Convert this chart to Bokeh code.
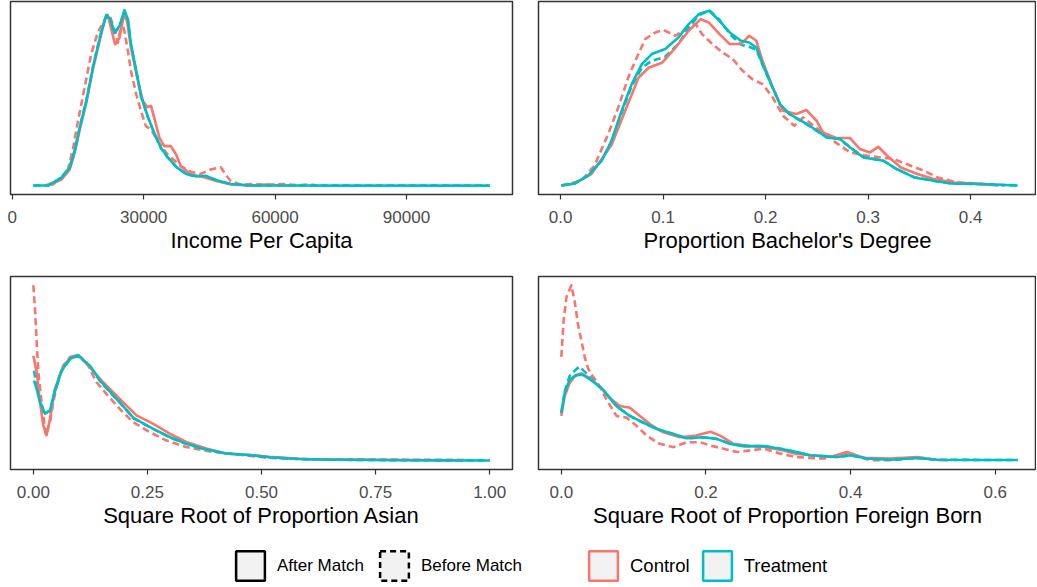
import math
from bokeh.plotting import figure
from bokeh.models import Range1d, FixedTicker, Legend, LegendItem
from bokeh.layouts import column, row
from bokeh.embed import file_html
from bokeh.resources import INLINE

RED = "#F8766D"
CYAN = "#00BFC4"
FONT = "Liberation Sans"

# ---------------- data (density, unlabelled scale) ----------------
# Income Per Capita
inc_ctrl_after_x = [7500, 11200, 13100, 14250, 15400, 16900, 18400, 20200, 21100, 21800, 22700, 23500, 24500, 25450, 26200, 27100, 28300, 29800, 30800, 31700, 32600, 33600, 34700, 36200, 37400, 38500, 40800, 43800, 46800, 49900, 54400, 58000, 61000, 64000]
inc_ctrl_after_y = [0.2, 6, 16, 33, 56, 83, 116, 149.5, 166, 170.5, 154.5, 141.2, 147.8, 170.5, 164.5, 137.8, 112.8, 84.5, 78.5, 79.5, 64.5, 47.8, 39.5, 39.5, 31.2, 19.5, 11.2, 8.5, 4.5, 1.2, 0.3, 1.3, 0.5, 0.1]
inc_ctrl_before_x = [8950, 11200, 12700, 13900, 15000, 16500, 18000, 19500, 21100, 22200, 23200, 24100, 25000, 25600, 26400, 27100, 28300, 29400, 30500, 31700, 33200, 35450, 38500, 40800, 43000, 45300, 47600, 48700, 49900, 52100, 55000, 58000, 62000, 65000, 68000, 70000]
inc_ctrl_before_y = [0.2, 7.8, 16, 37.8, 64.5, 97.8, 131.2, 152.8, 166, 170.5, 157.8, 142.8, 164.5, 154.5, 134.5, 114.5, 91.2, 74.5, 59.5, 56.2, 44.5, 31.2, 19.5, 13.8, 11.8, 16.2, 18.5, 11.2, 4.5, 1.2, 1.8, 0.8, 1.6, 0.6, 1.2, 0.1]
inc_treat_after_x = [4800, 8200, 11200, 13100, 14250, 15400, 16900, 18400, 20200, 21450, 22400, 23300, 24500, 25600, 26400, 27100, 28300, 29400, 30900, 32400, 33950, 35450, 37700, 40000, 42300, 44200, 46800, 49900, 54400, 62000, 75000, 90000, 109000]
inc_treat_after_y = [0.2, 0.2, 7.8, 17.8, 34.5, 57.8, 84.5, 117.8, 151.2, 170.5, 166, 152.8, 159.5, 175.2, 166, 141.2, 114.5, 89.5, 69.5, 52.8, 37.8, 28.5, 17.8, 11.2, 9.5, 9.8, 5.2, 1.8, 0.2, 0.2, 0.1, 0.1, 0.1]
inc_treat_before_x = [4800, 8200, 11200, 13100, 14250, 15400, 16900, 18400, 20200, 21450, 22400, 23300, 24500, 25600, 26400, 27100, 28300, 29400, 30900, 32400, 33950, 35450, 37700, 40000, 42300, 44200, 46800, 49900, 54400, 62000, 75000, 90000, 109000]
inc_treat_before_y = [0.2, 0.3, 8.2, 18.5, 35.5, 58.5, 85, 118.5, 151.8, 170, 165.5, 152, 159, 174.8, 165.5, 140.5, 114, 89, 69, 52.5, 37.5, 28.2, 17.5, 11, 9.3, 9.5, 5, 1.7, 0.2, 0.2, 0.1, 0.1, 0.1]

# Proportion Bachelor's Degree
bach_ctrl_after_x = [0.0007, 0.0138, 0.030, 0.0498, 0.063, 0.076, 0.0858, 0.0989, 0.112, 0.125, 0.1367, 0.145, 0.155, 0.165, 0.176, 0.184, 0.191, 0.197, 0.207, 0.217, 0.230, 0.240, 0.2497, 0.256, 0.269, 0.2825, 0.292, 0.302, 0.310, 0.3186, 0.332, 0.348, 0.364, 0.384, 0.404, 0.427]
bach_ctrl_after_y = [0.2, 2.3, 11.7, 41, 75, 108, 118, 123, 138, 155, 166.7, 163, 151.7, 141.7, 141.7, 150, 145, 125, 98.3, 75, 71.7, 75.7, 65, 53.3, 47.7, 47.7, 36.7, 33.3, 39, 30, 18.3, 11.7, 6.7, 3.3, 2.3, 0.3]
bach_ctrl_before_x = [0.0007, 0.020, 0.033, 0.0465, 0.0563, 0.066, 0.0743, 0.0826, 0.0924, 0.1006, 0.112, 0.122, 0.1318, 0.138, 0.148, 0.158, 0.168, 0.1776, 0.187, 0.197, 0.207, 0.217, 0.228, 0.2366, 0.253, 0.266, 0.2825, 0.299, 0.312, 0.325, 0.3415, 0.3546, 0.368, 0.387, 0.407, 0.433]
bach_ctrl_before_y = [0.2, 5, 20, 51.7, 78.3, 108.3, 128.3, 146.7, 153.3, 155.7, 150, 156.7, 161.7, 151.7, 141.7, 133.3, 126.7, 115, 106.7, 101.7, 88.3, 70, 60, 68.3, 55, 45, 33.3, 30, 28.3, 26.7, 20, 15, 8.3, 3.3, 2.3, 0.3]
bach_treat_after_x = [0.0007, 0.0138, 0.0268, 0.040, 0.0498, 0.0596, 0.0694, 0.0793, 0.089, 0.102, 0.115, 0.125, 0.135, 0.145, 0.155, 0.165, 0.176, 0.184, 0.191, 0.197, 0.204, 0.214, 0.2235, 0.243, 0.2596, 0.2727, 0.2825, 0.2956, 0.315, 0.328, 0.345, 0.364, 0.381, 0.407, 0.446]
bach_treat_after_y = [0.2, 2.3, 10, 25, 45, 75, 101.7, 121.7, 131.7, 136.7, 148.3, 161.7, 171.7, 175, 165, 153.3, 145, 143.3, 138.3, 121.7, 105, 81.7, 71.7, 60, 48.3, 46.7, 38.3, 28.3, 25, 16.7, 8.3, 5, 2.3, 1.7, 0.3]
bach_treat_before_x = [0.0007, 0.0138, 0.0268, 0.040, 0.0498, 0.0596, 0.0694, 0.0793, 0.089, 0.102, 0.115, 0.125, 0.135, 0.145, 0.155, 0.165, 0.176, 0.184, 0.191, 0.197, 0.204, 0.214, 0.2235, 0.243, 0.2596, 0.2727, 0.2825, 0.2956, 0.315, 0.328, 0.345, 0.364, 0.381, 0.407, 0.446]
bach_treat_before_y = [0.2, 2.3, 10, 25, 45, 73, 100, 118, 125, 129, 142, 158, 170.5, 175.5, 166, 152, 141, 139, 136, 121, 104.5, 81.5, 71.5, 59.5, 48.5, 46.5, 38.5, 28.5, 25, 16.5, 8.5, 5, 2.3, 1.7, 0.3]

# Square Root of Proportion Asian
asian_ctrl_after_x = [0.0, 0.0074, 0.0146, 0.0219, 0.029, 0.0365, 0.0474, 0.062, 0.080, 0.0983, 0.124, 0.153, 0.189, 0.226, 0.262, 0.2987, 0.335, 0.379, 0.4225, 0.48, 0.517, 0.6, 0.75, 0.94]
asian_ctrl_after_y = [105.5, 89, 58.8, 35.5, 25.5, 42.2, 72.2, 90.5, 103.8, 106.2, 93.8, 78.8, 62.2, 45.5, 37.2, 27.2, 18.8, 12.2, 7.2, 5.5, 4, 1.5, 1, 0.5]
asian_ctrl_before_x = [0.0, 0.0037, 0.0074, 0.011, 0.018, 0.0277, 0.0365, 0.0437, 0.0546, 0.0656, 0.080, 0.0983, 0.1166, 0.1385, 0.160, 0.189, 0.2185, 0.255, 0.291, 0.335, 0.393, 0.444, 0.517, 0.6, 0.75, 0.946]
asian_ctrl_before_y = [176.2, 152, 118.8, 88.8, 58.8, 25.5, 38.8, 58.8, 82.2, 95.5, 103.8, 106.2, 98.8, 78.8, 67.2, 52.2, 38.8, 28.8, 20.5, 13.8, 8.8, 6.5, 2.8, 1.5, 1.2, 0.8]
asian_treat_after_x = [0.0015, 0.0074, 0.0146, 0.0256, 0.0365, 0.0474, 0.062, 0.080, 0.0974, 0.124, 0.147, 0.189, 0.22, 0.262, 0.2987, 0.335, 0.367, 0.4225, 0.48, 0.517, 0.58, 0.66, 0.8, 0.9, 1.0]
asian_treat_after_y = [80.5, 72.2, 58.8, 47.2, 50.5, 70.5, 90.5, 102.2, 106, 95.5, 80, 58.8, 42.8, 32.2, 23.8, 17.2, 12.6, 7.2, 5.5, 3.5, 1.8, 1, 0.5, 0.4, 0.3]
asian_treat_before_x = [0.0015, 0.0074, 0.0146, 0.0256, 0.0365, 0.0474, 0.062, 0.080, 0.0974, 0.124, 0.147, 0.189, 0.22, 0.262, 0.2987, 0.335, 0.367, 0.4225, 0.48, 0.517, 0.58, 0.66, 0.8, 0.9, 1.0]
asian_treat_before_y = [90.5, 75, 59.5, 47.5, 50, 70, 90, 102, 105.5, 95, 79.5, 58.5, 42.5, 32, 23.5, 17, 12.5, 7.2, 5.5, 3.5, 1.8, 1, 0.5, 0.4, 0.3]

# Square Root of Proportion Foreign Born
fb_ctrl_after_x = [0.0, 0.0046, 0.0115, 0.0184, 0.0277, 0.039, 0.053, 0.067, 0.081, 0.0947, 0.1086, 0.1225, 0.141, 0.164, 0.187, 0.206, 0.2196, 0.238, 0.261, 0.284, 0.307, 0.3236, 0.344, 0.372, 0.395, 0.418, 0.455, 0.4924, 0.515, 0.534]
fb_ctrl_after_y = [45.5, 65.5, 78.8, 85.5, 88.8, 83.8, 75.5, 63.8, 55.5, 53.8, 45.5, 37.2, 28.8, 23.8, 25.5, 29.5, 25.5, 17.2, 15, 13.8, 10.5, 7.2, 5.5, 3.8, 8.8, 3, 2.2, 3.8, 1, 0.3]
fb_ctrl_before_x = [0.0, 0.0032, 0.0069, 0.0139, 0.0184, 0.023, 0.0277, 0.0323, 0.0369, 0.0438, 0.053, 0.0624, 0.0763, 0.090, 0.104, 0.118, 0.136, 0.155, 0.173, 0.192, 0.206, 0.224, 0.243, 0.261, 0.28, 0.303, 0.3236, 0.344, 0.363, 0.39, 0.404, 0.428, 0.455, 0.478, 0.5015, 0.52]
fb_ctrl_before_y = [105.5, 142.2, 165.5, 178.2, 162.2, 138.8, 122.2, 105.5, 93.8, 85.5, 75.5, 62.2, 45.5, 43.8, 35.5, 25.5, 17.2, 13.8, 18.8, 18.8, 15.5, 12.2, 8.8, 10.5, 12.2, 7.2, 3.8, 2.8, 2.2, 7.2, 5.5, 0.5, 0.5, 2.2, 3, 0.5]
fb_treat_after_x = [0.0, 0.0046, 0.0115, 0.0208, 0.030, 0.0438, 0.0577, 0.0763, 0.0947, 0.113, 0.132, 0.155, 0.173, 0.196, 0.215, 0.233, 0.252, 0.28, 0.303, 0.3236, 0.344, 0.381, 0.4, 0.423, 0.455, 0.4924, 0.52, 0.58, 0.631]
fb_treat_after_y = [48.8, 68.8, 82.2, 87.2, 87.2, 80.5, 72.2, 55.5, 45.5, 38.8, 32.2, 27.2, 22.8, 23.8, 22.2, 17.2, 14.8, 14.8, 12.2, 9, 5.5, 3.8, 5.5, 2.2, 1, 2.8, 1, 0.8, 0.8]
fb_treat_before_x = [0.0, 0.0046, 0.0115, 0.0208, 0.0254, 0.030, 0.0438, 0.0577, 0.0763, 0.0947, 0.113, 0.132, 0.155, 0.173, 0.196, 0.215, 0.233, 0.252, 0.28, 0.303, 0.3236, 0.344, 0.381, 0.4, 0.423, 0.455, 0.4924, 0.52, 0.58, 0.631]
fb_treat_before_y = [48, 70, 86, 93, 95.5, 92, 82, 72, 55.5, 45.5, 38.8, 32.2, 27.2, 22.8, 23.8, 22.2, 17.2, 14.8, 14.8, 12.2, 9, 5.5, 3.8, 5.5, 2.2, 1, 2.8, 1, 0.8, 0.8]

# tick values / labels
inc_ticks = [0, 30000, 60000, 90000]
inc_tick_labels = ["0", "30000", "60000", "90000"]
bach_ticks = [0.0, 0.1, 0.2, 0.3, 0.4]
bach_tick_labels = ["0.0", "0.1", "0.2", "0.3", "0.4"]
asian_ticks = [0.0, 0.25, 0.5, 0.75, 1.0]
asian_tick_labels = ["0.00", "0.25", "0.50", "0.75", "1.00"]
fb_ticks = [0.0, 0.2, 0.4, 0.6]
fb_tick_labels = ["0.0", "0.2", "0.4", "0.6"]

legend_linetype_labels = ["After Match", "Before Match"]
legend_group_labels = ["Control", "Treatment"]

# ---------------- layout constants ----------------
DASH = "7 4"
LW = 2.6
REF_FRAME_W = 502


def make_panel(title, series, ticks, tick_labels, width, mb_left, mb_right,
               height, mb_top, mb_bottom):
    xs = [v for s in series for v in s[0]]
    ys = [v for s in series for v in s[1]]
    lo, hi = min(xs), max(xs)
    span = hi - lo
    x0 = lo - 0.05 * span
    x1 = hi + 0.05 * span
    frame_w = width - mb_left - mb_right
    x1 = x0 + (x1 - x0) * frame_w / REF_FRAME_W
    ymax = max(ys)
    p = figure(width=width, height=height, x_range=Range1d(x0, x1),
               y_range=Range1d(-0.05 * ymax, 1.05 * ymax),
               output_backend="svg", toolbar_location=None, tools="",
               y_axis_location=None,
               min_border_left=mb_left, min_border_right=mb_right,
               min_border_top=mb_top, min_border_bottom=mb_bottom,
               background_fill_color="white", border_fill_color="white")
    p.outline_line_color = "#333333"
    p.outline_line_width = 1.5
    p.grid.visible = False
    for (x, y, color, dash) in series:
        p.line(x, y, line_color=color, line_width=LW, line_dash=dash,
               line_join="round")
    ax = p.xaxis[0]
    ax.ticker = FixedTicker(ticks=ticks, minor_ticks=[])
    ax.major_label_overrides = {t: l for t, l in zip(ticks, tick_labels)}
    ax.axis_line_color = None
    ax.major_tick_line_color = "#333333"
    ax.major_tick_line_width = 1.2
    ax.major_tick_out = 5
    ax.major_tick_in = 0
    ax.minor_tick_line_color = None
    ax.major_label_text_font = FONT
    ax.major_label_text_font_size = "17px"
    ax.major_label_text_color = "#4D4D4D"
    ax.major_label_standoff = 11
    ax.axis_label = title
    ax.axis_label_text_font = FONT
    ax.axis_label_text_font_size = "22px"
    ax.axis_label_text_font_style = "normal"
    ax.axis_label_text_color = "black"
    ax.axis_label_standoff = 2
    return p


def series4(cbx, cby, tbx, tby, cax, cay, tax, tay):
    return [(cbx, cby, RED, DASH), (tbx, tby, CYAN, DASH),
            (cax, cay, RED, "solid"), (tax, tay, CYAN, "solid")]


LEFT_W, RIGHT_W = 536, 500
p1 = make_panel("Income Per Capita",
                series4(inc_ctrl_before_x, inc_ctrl_before_y, inc_treat_before_x, inc_treat_before_y,
                        inc_ctrl_after_x, inc_ctrl_after_y, inc_treat_after_x, inc_treat_after_y),
                inc_ticks, inc_tick_labels, LEFT_W, 10, 24, 270, 1, 76)
p2 = make_panel("Proportion Bachelor's Degree",
                series4(bach_ctrl_before_x, bach_ctrl_before_y, bach_treat_before_x, bach_treat_before_y,
                        bach_ctrl_after_x, bach_ctrl_after_y, bach_treat_after_x, bach_treat_after_y),
                bach_ticks, bach_tick_labels, RIGHT_W, 2, 0, 270, 1, 76)
p3 = make_panel("Square Root of Proportion Asian",
                series4(asian_ctrl_before_x, asian_ctrl_before_y, asian_treat_before_x, asian_treat_before_y,
                        asian_ctrl_after_x, asian_ctrl_after_y, asian_treat_after_x, asian_treat_after_y),
                asian_ticks, asian_tick_labels, LEFT_W, 10, 24, 270, 6, 71)
p4 = make_panel("Square Root of Proportion Foreign Born",
                series4(fb_ctrl_before_x, fb_ctrl_before_y, fb_treat_before_x, fb_treat_before_y,
                        fb_ctrl_after_x, fb_ctrl_after_y, fb_treat_after_x, fb_treat_after_y),
                fb_ticks, fb_tick_labels, RIGHT_W, 2, 0, 270, 6, 71)

# ---------------- legend strip ----------------
leg = figure(width=LEFT_W + RIGHT_W, height=47, output_backend="svg", toolbar_location=None,
             tools="", x_range=Range1d(0, 1), y_range=Range1d(0, 1),
             x_axis_location=None, y_axis_location=None,
             min_border_left=0, min_border_right=0, min_border_top=0, min_border_bottom=0,
             outline_line_color=None, background_fill_color="white",
             border_fill_color="white")
leg.grid.visible = False
nan = float("nan")
KEY_FILL = "#F2F2F2"


def key(color, dash):
    return leg.quad(left=[nan], right=[nan], top=[nan], bottom=[nan],
                    fill_color=KEY_FILL, line_color=color, line_width=2.5,
                    line_dash=dash)


k_after = key("black", "solid")
k_before = key("black", "6 4")
k_ctrl = key(RED, "solid")
k_treat = key(CYAN, "solid")

common = dict(orientation="horizontal", glyph_width=36, glyph_height=37,
              label_standoff=9, padding=0, margin=0, border_line_color=None,
              background_fill_alpha=0, label_text_font=FONT,
              label_text_color="black", label_text_baseline="middle")
legend1 = Legend(items=[LegendItem(label=legend_linetype_labels[0], renderers=[k_after]),
                        LegendItem(label=legend_linetype_labels[1], renderers=[k_before])],
                 location=(232, 3), spacing=12, label_text_font_size="17px", **common)
legend2 = Legend(items=[LegendItem(label=legend_group_labels[0], renderers=[k_ctrl]),
                        LegendItem(label=legend_group_labels[1], renderers=[k_treat])],
                 location=(585, 3), spacing=9, label_text_font_size="18.5px", **common)
leg.add_layout(legend1)
leg.add_layout(legend2)

layout = column(row(p1, p2), row(p3, p4), leg)

open("out.html", "w").write(file_html(layout, INLINE))
